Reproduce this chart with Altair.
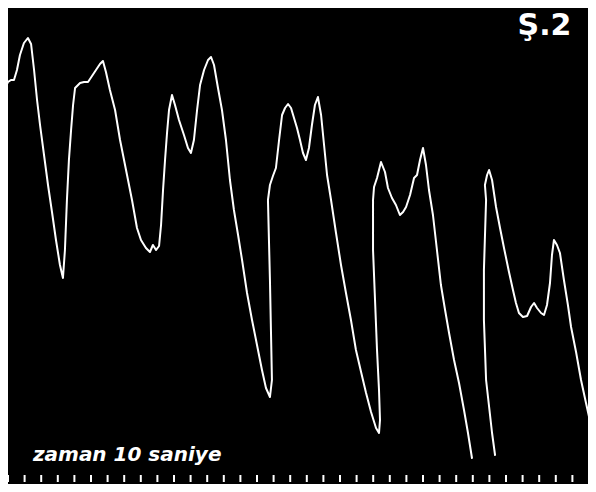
import altair as alt
import pandas as pd

# Kymograph trace: time (s, one time-marker tick = 1 s) and pen height (mm)
TIME = [
    -0.30, -0.18, 0.00, 0.18, 0.36, 0.54, 0.72, 0.96, 1.20, 1.39,
    1.57, 1.75, 1.93, 2.17, 2.41, 2.65, 2.89, 3.13, 3.31, 3.43,
    3.55, 3.67, 3.80, 3.92, 4.04, 4.34, 4.58, 4.82, 5.06, 5.30,
    5.54, 5.72, 5.90, 6.14, 6.45, 6.75, 7.17, 7.47, 7.77, 8.01,
    8.31, 8.55, 8.73, 8.92, 9.10, 9.22, 9.34, 9.46, 9.58, 9.70,
    9.88, 10.06, 10.30, 10.60, 10.84, 11.02, 11.20, 11.39, 11.57, 11.81,
    12.05, 12.23, 12.41, 12.65, 12.89, 13.13, 13.37, 13.61, 13.86, 14.10,
    14.40, 14.70, 15.00, 15.30, 15.54, 15.78, 15.90, 15.84, 15.78, 15.72,
    15.66, 15.78, 15.96, 16.14, 16.33, 16.51, 16.69, 16.87, 17.05, 17.23,
    17.41, 17.59, 17.77, 17.95, 18.13, 18.31, 18.49, 18.67, 18.86, 19.04,
    19.22, 19.46, 19.76, 20.06, 20.36, 20.66, 20.96, 21.27, 21.57, 21.87,
    22.17, 22.35, 22.41, 22.35, 22.23, 22.11, 21.99, 21.99, 22.05, 22.23,
    22.47, 22.71, 22.89, 23.13, 23.37, 23.61, 23.80, 23.98, 24.22, 24.46,
    24.64, 24.82, 25.00, 25.18, 25.36, 25.60, 25.84, 26.08, 26.33, 26.57,
    26.87, 27.17, 27.47, 27.71, 27.95,
    # pen trace fades out at the bottom of the fifth beat, resumes here
    29.34, 29.16,
    28.80, 28.67, 28.67, 28.80, 28.73, 28.86, 28.98, 29.16, 29.40, 29.64,
    29.88, 30.18, 30.42, 30.60, 30.78, 31.02, 31.27, 31.51, 31.69, 31.87,
    32.11, 32.29, 32.47, 32.65, 32.77, 32.89, 33.07, 33.25, 33.49, 33.73,
    33.92, 34.22, 34.52, 34.82, 35.18, 35.30,
]
HEIGHT = [
    39.5, 40.4, 41.0, 41.2, 41.2, 42.2, 43.7, 44.9, 45.4, 44.8,
    42.2, 39.2, 36.7, 33.7, 30.7, 28.0, 25.2, 22.7, 21.4, 24.2,
    29.2, 33.2, 36.2, 38.7, 40.4, 40.9, 41.0, 41.0, 41.6, 42.2,
    42.8, 43.1, 42.0, 40.2, 38.2, 35.2, 31.7, 29.2, 26.4, 25.2,
    24.4, 24.0, 24.7, 24.2, 24.6, 26.7, 30.2, 33.2, 35.9, 38.2,
    39.7, 38.7, 37.2, 35.7, 34.4, 33.9, 35.2, 38.2, 40.7, 42.2,
    43.2, 43.5, 42.7, 40.4, 38.2, 35.2, 31.2, 28.2, 25.7, 23.2,
    19.9, 17.2, 14.7, 12.2, 10.4, 9.5, 11.2, 16.2, 21.2, 25.2,
    29.2, 30.7, 31.6, 32.4, 35.2, 37.7, 38.4, 38.8, 38.4, 37.4,
    36.4, 35.2, 33.9, 33.2, 34.4, 36.7, 38.7, 39.5, 37.7, 34.7,
    31.7, 29.2, 25.9, 22.7, 19.9, 17.2, 14.2, 12.0, 9.9, 8.0,
    6.4, 5.9, 7.2, 10.2, 14.2, 19.2, 24.2, 29.2, 30.5, 31.4,
    33.0, 32.0, 30.4, 29.4, 28.7, 27.7, 28.0, 28.5, 29.7, 31.4,
    31.7, 33.2, 34.4, 32.7, 30.2, 27.7, 24.2, 20.7, 18.2, 15.9,
    13.2, 10.9, 8.2, 5.9, 3.4,
    3.7, 5.9,
    11.2, 17.2, 22.2, 29.2, 30.7, 31.7, 32.2, 31.2, 28.5, 26.4,
    24.4, 22.0, 20.2, 18.9, 17.9, 17.5, 17.6, 18.5, 18.9, 18.4,
    17.9, 17.7, 18.7, 20.9, 23.7, 25.2, 24.7, 23.9, 21.2, 18.7,
    16.5, 14.0, 11.2, 8.9, 6.2, 5.4,
]
# index of the first point after the break in the record
BREAK_AT = 145

# one-second time marker along the bottom edge
MARKS = list(range(36))
MARK_LOW, MARK_HIGH = 1.0, 1.7

TIME_LABEL = "zaman 10 saniye"
FIG_LABEL = "Ş.2"

idx = list(range(len(TIME)))
trace = pd.DataFrame({
    "t": TIME, "h": HEIGHT, "i": idx,
    "piece": [0 if k < BREAK_AT else 1 for k in idx],
})
marks = pd.DataFrame({"t": MARKS, "lo": MARK_LOW, "hi": MARK_HIGH})

xs = alt.Scale(domain=[0, 34.94], nice=False, zero=False)
ys = alt.Scale(domain=[0.8, 48.4], nice=False, zero=False)

line = alt.Chart(trace).mark_line(
    color="white", strokeWidth=2, strokeJoin="round", strokeCap="round", clip=True
).encode(
    x=alt.X("t:Q", scale=xs, axis=None),
    y=alt.Y("h:Q", scale=ys, axis=None),
    detail="piece:N",
    order="i:Q",
)

ticks = alt.Chart(marks).mark_rule(color="white", strokeWidth=2, clip=True).encode(
    x=alt.X("t:Q", scale=xs, axis=None),
    y=alt.Y("lo:Q", scale=ys, axis=None),
    y2="hi:Q",
)

time_text = alt.Chart().mark_text(
    text=TIME_LABEL, color="white", font="DejaVu Sans", fontSize=20,
    fontStyle="italic", fontWeight="bold", align="left", baseline="alphabetic",
).encode(
    x=alt.datum(1.5, scale=xs),
    y=alt.datum(3.1, scale=ys),
)

fig_text = alt.Chart().mark_text(
    text=FIG_LABEL, color="white", font="DejaVu Sans", fontSize=30,
    fontWeight="bold", align="left", baseline="alphabetic",
).encode(
    x=alt.datum(30.7, scale=xs),
    y=alt.datum(45.7, scale=ys),
)

chart = alt.layer(line, ticks, time_text, fig_text).properties(
    width=580, height=476, background="black", padding=0,
    autosize=alt.AutoSizeParams(type="fit", contains="padding"),
).configure_view(stroke=None)

chart.save("out.html", embed_options={"renderer": "svg", "actions": False})
